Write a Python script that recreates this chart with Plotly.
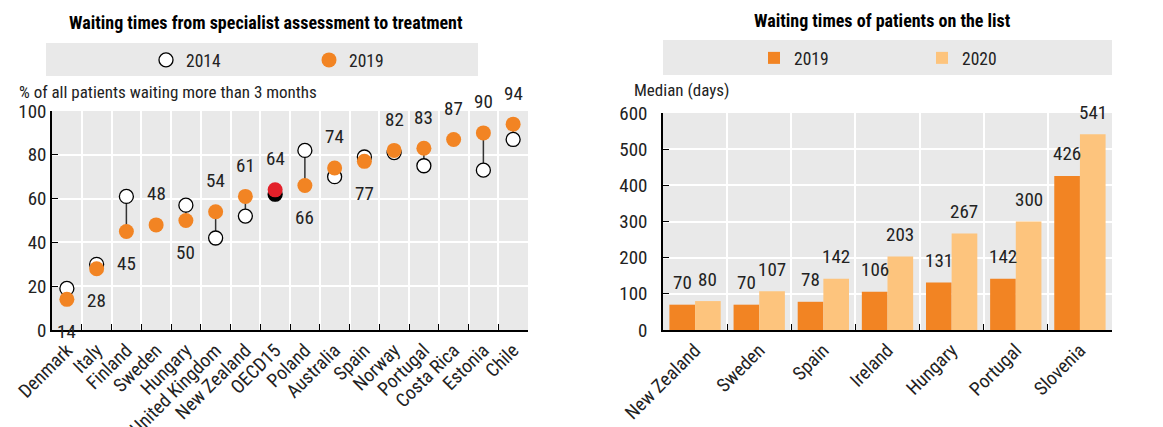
import plotly.graph_objects as go

# ---------------- data ----------------
countries_left = ["Denmark", "Italy", "Finland", "Sweden", "Hungary", "United Kingdom",
                  "New Zealand", "OECD15", "Poland", "Australia", "Spain", "Norway",
                  "Portugal", "Costa Rica", "Estonia", "Chile"]
values_2014 = [19, 30, 61, None, 57, 42, 52, 62, 82, 70, 79, 81, 75, None, 73, 87]
values_2019 = [14, 28, 45, 48, 50, 54, 61, 64, 66, 74, 77, 82, 83, 87, 90, 94]
label_side = ["below", "below", "below", "above", "below", "above", "above", "above",
              "below", "above", "below", "above", "above", "above", "above", "above"]

countries_right = ["New Zealand", "Sweden", "Spain", "Ireland", "Hungary", "Portugal", "Slovenia"]
median_2019 = [70, 70, 78, 106, 131, 142, 426]
median_2020 = [80, 107, 142, 203, 267, 300, 541]

left_ticks = [0, 20, 40, 60, 80, 100]
right_ticks = [0, 100, 200, 300, 400, 500, 600]

# ---------------- style ----------------
W, H = 1163, 427
FONT = "Liberation Sans Narrow, Arial Narrow, Roboto Condensed, Liberation Sans, sans-serif"
FS_AXT = 17     # axis titles
FS_TICK = 19    # tick labels
FS_LAB = 19     # data labels
FS_LEG = 17.5   # legend
FS_TTL = 18     # chart titles
ORANGE = "#f28423"
LIGHT = "#fdc47d"
RED = "#e3202a"
BG = "#e9e9e9"
TXT = "#222222"

def px_x(p):
    return p / W

def px_y(p):
    return 1 - p / H

fig = go.Figure()

# connector lines between 2014 and 2019
cx, cy = [], []
for c, a, b in zip(countries_left, values_2014, values_2019):
    if a is not None and b is not None:
        cx += [c, c, None]
        cy += [a, b, None]
fig.add_trace(go.Scatter(x=cx, y=cy, mode="lines", line=dict(color="#333333", width=1.5),
                         showlegend=False, hoverinfo="skip", xaxis="x", yaxis="y"))

fill14 = ["black" if c == "OECD15" else "white" for c in countries_left]
fill19 = [RED if c == "OECD15" else ORANGE for c in countries_left]

fig.add_trace(go.Scatter(x=countries_left, y=values_2014, mode="markers", name="2014",
                         marker=dict(size=14, color=fill14, line=dict(color="black", width=1.3)),
                         xaxis="x", yaxis="y", legend="legend"))
fig.add_trace(go.Scatter(x=countries_left, y=values_2019, mode="markers", name="2019",
                         marker=dict(size=15, color=fill19, line=dict(width=0)),
                         xaxis="x", yaxis="y", legend="legend"))

fig.add_trace(go.Bar(x=countries_right, y=median_2019, name="2019",
                     marker=dict(color=ORANGE, line=dict(width=0)),
                     xaxis="x2", yaxis="y2", legend="legend2"))
fig.add_trace(go.Bar(x=countries_right, y=median_2020, name="2020",
                     marker=dict(color=LIGHT, line=dict(width=0)),
                     xaxis="x2", yaxis="y2", legend="legend2"))

annotations = []
for c, v, s in zip(countries_left, values_2019, label_side):
    annotations.append(dict(x=c, y=v, xref="x", yref="y", text=str(v), showarrow=False,
                            xanchor="center", yanchor="middle",
                            yshift=31 if s == "above" else -32,
                            font=dict(family=FONT, size=FS_LAB, color=TXT)))

BAR_OFF = 0.2
for i, (a, b) in enumerate(zip(median_2019, median_2020)):
    for off, v in ((-BAR_OFF, a), (BAR_OFF, b)):
        annotations.append(dict(x=i + off, y=v, xref="x2", yref="y2", text=str(v), showarrow=False,
                                xanchor="center", yanchor="middle", yshift=22,
                                font=dict(family=FONT, size=FS_LAB, color=TXT)))

annotations += [
    dict(x=px_x(266), y=px_y(22), xref="paper", yref="paper", showarrow=False,
         xanchor="center", yanchor="middle",
         text="<b>Waiting times from specialist assessment to treatment</b>",
         font=dict(family=FONT, size=FS_TTL, color="black")),
    dict(x=px_x(882), y=px_y(20), xref="paper", yref="paper", showarrow=False,
         xanchor="center", yanchor="middle",
         text="<b>Waiting times of patients on the list</b>",
         font=dict(family=FONT, size=FS_TTL, color="black")),
    dict(x=px_x(17), y=px_y(92), xref="paper", yref="paper", showarrow=False,
         xanchor="left", yanchor="middle",
         text="% of all patients waiting more than 3 months",
         font=dict(family=FONT, size=FS_AXT, color=TXT)),
    dict(x=px_x(632), y=px_y(90), xref="paper", yref="paper", showarrow=False,
         xanchor="left", yanchor="middle",
         text="Median (days)",
         font=dict(family=FONT, size=FS_AXT, color=TXT)),
]

shapes = [
    dict(type="rect", xref="paper", yref="paper", x0=px_x(46), x1=px_x(478), y0=px_y(76), y1=px_y(43),
         fillcolor=BG, line=dict(width=0), layer="below"),
    dict(type="rect", xref="paper", yref="paper", x0=px_x(663), x1=px_x(1112), y0=px_y(75), y1=px_y(40),
         fillcolor=BG, line=dict(width=0), layer="below"),
]

axis_common = dict(showline=True, linecolor="black", linewidth=1.5, ticks="inside", ticklen=6,
                   tickcolor="black", showgrid=True, gridcolor="white", gridwidth=1.5,
                   zeroline=False, automargin=False,
                   tickfont=dict(family=FONT, size=FS_TICK, color=TXT))

fig.update_layout(
    width=W, height=H, margin=dict(l=0, r=0, t=0, b=0),
    template="none", paper_bgcolor="white", plot_bgcolor=BG,
    font=dict(family=FONT, size=FS_TICK, color=TXT),
    barmode="group", bargap=0.2, bargroupgap=0,
    xaxis=dict(domain=[px_x(52), px_x(528)], anchor="y", type="category", tickson="boundaries",
               categoryorder="array", categoryarray=countries_left,
               tickangle=-45, range=[-0.5, 15.5], **axis_common),
    yaxis=dict(domain=[px_y(330), px_y(111)], anchor="x", range=[0, 100], tickvals=left_ticks,
               **axis_common),
    xaxis2=dict(domain=[px_x(663), px_x(1112)], anchor="y2", type="category", tickson="boundaries",
                categoryorder="array", categoryarray=countries_right,
                tickangle=-45, range=[-0.5, 6.5], **axis_common),
    yaxis2=dict(domain=[px_y(330), px_y(113)], anchor="x2", range=[0, 600], tickvals=right_ticks,
                ticklabelstandoff=10, **axis_common),
    legend=dict(orientation="h", x=px_x(146), xanchor="left", y=px_y(60), yanchor="middle",
                bgcolor="rgba(0,0,0,0)", entrywidth=118, font=dict(family=FONT, size=FS_LEG, color=TXT),
                itemclick=False),
    legend2=dict(orientation="h", x=px_x(754), xanchor="left", y=px_y(58), yanchor="middle",
                 bgcolor="rgba(0,0,0,0)", entrywidth=123, font=dict(family=FONT, size=FS_LEG, color=TXT),
                 itemclick=False),
    annotations=annotations, shapes=shapes,
)

fig.write_html("out.html", config={"displayModeBar": False},
               post_script="document.body.style.margin='0';document.body.style.overflow='hidden';")
